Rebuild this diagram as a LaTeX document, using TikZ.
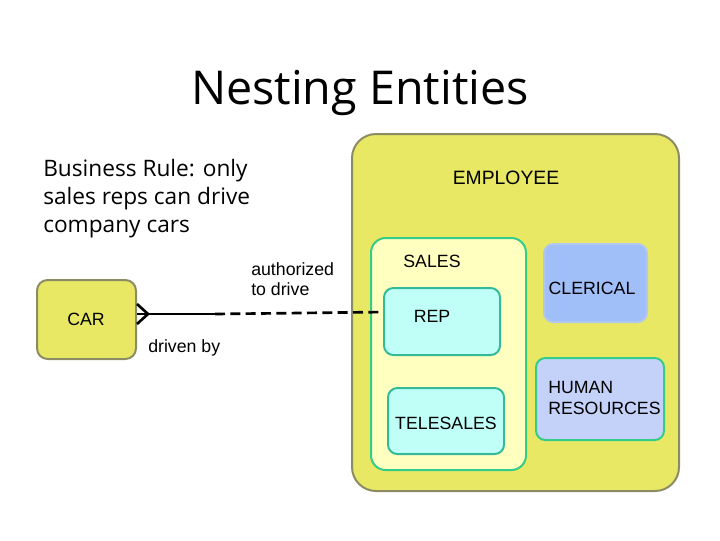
\documentclass[tikz,border=0pt]{standalone}
\usepackage{fontspec}
\setmainfont{Liberation Sans}
\newfontfamily\comicfont{Open Sans}
\definecolor{empfill}{RGB}{232,232,101}
\definecolor{empdraw}{RGB}{140,140,100}
\definecolor{salesfill}{RGB}{255,255,192}
\definecolor{greenline}{RGB}{51,204,136}
\definecolor{repfill}{RGB}{192,255,248}
\definecolor{repdraw}{RGB}{51,187,153}
\definecolor{clerfill}{RGB}{160,190,248}
\definecolor{clerdraw}{RGB}{176,200,240}
\definecolor{hrfill}{RGB}{196,210,250}
\begin{document}
\begin{tikzpicture}[x=0.75pt,y=-0.75pt,
  box/.style={rectangle,inner sep=0pt,line width=1.5pt},
  lbl/.style={inner sep=0pt,font=\fontsize{13.3pt}{15.5pt}\selectfont,align=left},
  rel/.style={line width=2pt,line cap=butt}]
\useasboundingbox (0,0) rectangle (720,540);
\node[font=\comicfont\fontsize{35pt}{40pt}\selectfont,inner sep=0pt] (title) at (360,93) {Nesting Entities};
\node[inner sep=0pt,anchor=north west,align=left,font=\comicfont\fontsize{17pt}{21pt}\selectfont] (rule) at (43,159) {Business Rule: only\\sales reps can drive\\company cars};
% boxes
\node[box,fill=empfill,draw=empdraw,rounded corners=18pt,minimum width=327*0.75pt,minimum height=357*0.75pt] (emp) at (515.5,312.5) {};
\node[box,fill=salesfill,draw=greenline,rounded corners=11pt,minimum width=155*0.75pt,minimum height=232*0.75pt] (sales) at (448.5,354) {};
\node[box,fill=repfill,draw=repdraw,rounded corners=7pt,minimum width=116*0.75pt,minimum height=67*0.75pt] (rep) at (442,321.5) {};
\node[box,fill=repfill,draw=repdraw,rounded corners=7pt,minimum width=116*0.75pt,minimum height=66*0.75pt] (tele) at (446,421) {};
\node[box,fill=clerfill,draw=clerdraw,rounded corners=7pt,minimum width=103*0.75pt,minimum height=78*0.75pt] (cler) at (595.5,283) {};
\node[box,fill=hrfill,draw=greenline,rounded corners=7pt,minimum width=128*0.75pt,minimum height=82*0.75pt] (hr) at (600,399) {};
\node[box,fill=empfill,draw=empdraw,rounded corners=8pt,minimum width=99*0.75pt,minimum height=79*0.75pt] (car) at (86.5,319.5) {};
% labels
\node[lbl,font=\fontsize{14.5pt}{16pt}\selectfont] (emplbl) at (506,178) {EMPLOYEE};
\node[lbl] (saleslbl) at (432,261) {SALES};
\node[lbl] (replbl) at (432,316) {REP};
\node[lbl] (telelbl) at (446,423) {TELESALES};
\node[lbl] (clerlbl) at (592,288) {CLERICAL};
\node[lbl,anchor=west] (hrlbl) at (548,398) {HUMAN\\RESOURCES};
\node[lbl] (carlbl) at (86,319) {CAR};
\node[lbl,anchor=west] (authlbl) at (251,279) {authorized\\to drive};
\node[lbl,anchor=west] (drivenlbl) at (148,348) {driven by};
% connector
\coordinate (cf) at (148,314);
\coordinate (mid) at (215,314);
\draw[rel] (car.east |- cf) -- (mid);
\draw[rel] ([yshift=7.5pt]car.east |- cf) -- (cf) -- ([yshift=-7.5pt]car.east |- cf);
\draw[rel,dash pattern=on 7.5pt off 4pt] (mid) -- ([yshift=7.1pt]rep.west);
\end{tikzpicture}
\end{document}
